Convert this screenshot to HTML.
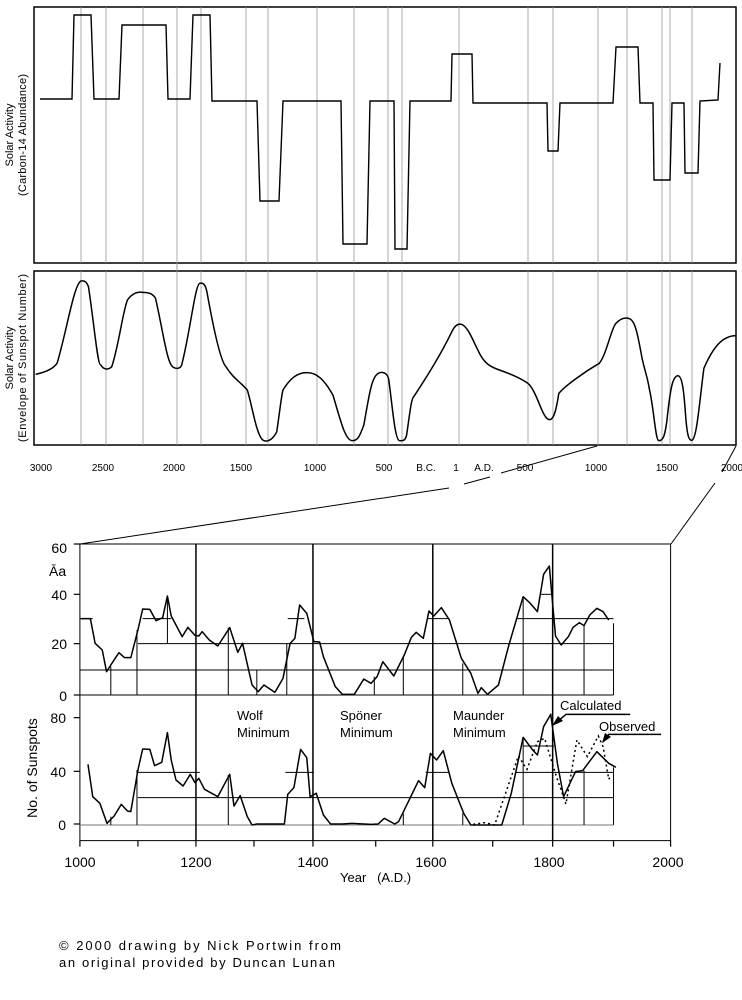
<!DOCTYPE html>
<html><head><meta charset="utf-8"><style>
html,body{margin:0;padding:0;background:#fff;}
svg{display:block;}
text{font-family:"Liberation Sans",sans-serif;fill:#000;}
.ns{vector-effect:non-scaling-stroke;}
</style></head><body>
<svg width="742" height="1000" viewBox="0 0 742 1000" xmlns="http://www.w3.org/2000/svg">
<!-- Panel 1 -->
<rect x="34" y="7" width="702" height="256" fill="none" stroke="#000" stroke-width="1.5"/>
<g stroke="#999" stroke-width="0.8">
<line x1="81" y1="7" x2="81" y2="263"/><line x1="106" y1="7" x2="106" y2="263"/><line x1="143" y1="7" x2="143" y2="263"/><line x1="177" y1="7" x2="177" y2="270"/><line x1="201" y1="7" x2="201" y2="263"/><line x1="246" y1="7" x2="246" y2="263"/><line x1="268" y1="7" x2="268" y2="263"/><line x1="317" y1="7" x2="317" y2="263"/><line x1="354" y1="7" x2="354" y2="263"/><line x1="388" y1="7" x2="388" y2="263"/><line x1="402" y1="7" x2="402" y2="263"/><line x1="459" y1="7" x2="459" y2="263"/><line x1="528" y1="7" x2="528" y2="263"/><line x1="553" y1="7" x2="553" y2="263"/><line x1="598" y1="7" x2="598" y2="263"/><line x1="627" y1="7" x2="627" y2="263"/><line x1="662" y1="7" x2="662" y2="263"/><line x1="670" y1="7" x2="670" y2="263"/><line x1="692" y1="7" x2="692" y2="263"/>
</g>
<polyline fill="none" stroke="#000" stroke-width="1.4" points="40,99 72,99 74,15 91,15 94,99 119,99 122,25 166,25 168,99 190,99 193,15 210,15 212,101 257,101 260,201 279,201 283,101 341,101 343,244 367,244 370,101 394,101 395,249 407,249 410,101 451,101 452,54 472,54 473,103 547,103 548,151 558,151 560,103 613,103 616,47 638,47 640,103 653,103 654,180 670,180 672,103 684,103 685,173 698,173 700,101 718,100 720,63"/>
<text transform="translate(13,135) rotate(-90)" font-size="11" text-anchor="middle">Solar Activity</text>
<text transform="translate(26,135) rotate(-90)" font-size="11" text-anchor="middle" textLength="122" lengthAdjust="spacing">(Carbon-14 Abundance)</text>

<!-- Panel 2 -->
<rect x="34" y="271" width="702" height="174" fill="none" stroke="#000" stroke-width="1.5"/>
<g stroke="#999" stroke-width="0.8">
<line x1="81" y1="271" x2="81" y2="445"/><line x1="106" y1="271" x2="106" y2="445"/><line x1="143" y1="271" x2="143" y2="445"/><line x1="177" y1="263" x2="177" y2="445"/><line x1="201" y1="271" x2="201" y2="445"/><line x1="246" y1="271" x2="246" y2="445"/><line x1="268" y1="271" x2="268" y2="445"/><line x1="317" y1="271" x2="317" y2="445"/><line x1="354" y1="271" x2="354" y2="445"/><line x1="388" y1="271" x2="388" y2="445"/><line x1="402" y1="271" x2="402" y2="445"/><line x1="459" y1="271" x2="459" y2="445"/><line x1="528" y1="271" x2="528" y2="445"/><line x1="553" y1="271" x2="553" y2="445"/><line x1="598" y1="271" x2="598" y2="445"/><line x1="627" y1="271" x2="627" y2="445"/><line x1="662" y1="271" x2="662" y2="445"/><line x1="670" y1="271" x2="670" y2="445"/><line x1="692" y1="271" x2="692" y2="445"/>
</g>
<g transform="translate(0,265) scale(0.4756,0.33333)">
<path class="ns" fill="none" stroke="#000" stroke-width="1.5" stroke-linejoin="round" d="M75,328 C100,320 112,310 120,295 C140,200 155,60 170,48 C180,45 183,55 186,65 C200,200 205,300 212,300 C218,315 228,315 235,305 C250,240 258,140 268,105 C278,85 290,80 300,82 C315,82 322,88 327,100 C340,180 350,280 360,300 C365,312 378,315 382,300 C400,200 410,60 420,55 C428,52 432,60 435,80 C450,200 465,290 475,305 C490,340 505,350 520,375 C530,420 540,520 555,527 C565,532 575,520 582,500 C590,420 592,390 595,375 C610,340 625,323 645,323 C665,323 680,340 700,390 C715,460 725,525 740,527 C752,528 756,515 765,480 C775,400 780,350 790,332 C798,318 812,318 817,340 C825,420 830,525 840,527 C850,528 852,525 855,510 C862,440 865,400 870,395 C900,330 930,260 950,200 C955,185 962,175 970,178 C985,185 995,230 1010,270 C1020,295 1030,305 1050,315 C1080,330 1100,345 1110,355 C1130,380 1140,462 1155,464 C1165,465 1170,430 1175,385 C1190,360 1230,320 1260,295 C1275,270 1285,190 1295,175 C1305,160 1315,155 1325,162 C1335,170 1340,200 1350,280 C1358,330 1362,340 1365,370 C1375,430 1378,525 1385,527 C1395,528 1398,510 1402,470 C1410,360 1415,335 1425,332 C1435,332 1438,380 1442,460 C1445,510 1448,527 1455,526 C1465,520 1470,420 1480,310 C1495,260 1510,235 1520,225 C1530,215 1540,212 1548,212"/>
</g>
<text transform="translate(13,358) rotate(-90)" font-size="11" text-anchor="middle">Solar Activity</text>
<text transform="translate(26,358) rotate(-90)" font-size="11" text-anchor="middle" textLength="168" lengthAdjust="spacing">(Envelope  of Sunspot Number)</text>
<g font-size="10" text-anchor="middle">
<text x="41" y="471">3000</text><text x="103" y="471">2500</text><text x="174" y="471">2000</text><text x="241" y="471">1500</text><text x="315" y="471">1000</text><text x="384" y="471">500</text><text x="426" y="471">B.C.</text><text x="456" y="471">1</text><text x="484" y="471">A.D.</text><text x="525" y="471">500</text><text x="596" y="471">1000</text><text x="667" y="471">1500</text><text x="732" y="471">2000</text>
</g>
<g stroke="#000" stroke-width="1" fill="none">
<polyline points="597,446 501,473"/><line x1="490" y1="477" x2="464" y2="484"/><line x1="449" y1="488" x2="80" y2="544"/>
<line x1="736" y1="446" x2="722" y2="472"/><line x1="715" y1="483" x2="671" y2="544"/>
</g>

<!-- Bottom chart -->
<g transform="translate(0,530) scale(0.4756,0.33333)">
<g class="ns" stroke="#000" stroke-width="1" fill="none">
<rect class="ns" x="168" y="42" width="1242" height="890"/>
<line class="ns" x1="168" y1="495" x2="1290" y2="495"/>
<line class="ns" x1="1290" y1="280" x2="1290" y2="495"/>
<line class="ns" x1="1290" y1="712" x2="1290" y2="885"/>
<line class="ns" x1="168" y1="420" x2="1290" y2="420"/>
<line class="ns" x1="290" y1="341" x2="1290" y2="341"/>
<line class="ns" x1="168" y1="266" x2="195" y2="266"/>
<line class="ns" x1="300" y1="266" x2="360" y2="266"/>
<line class="ns" x1="605" y1="266" x2="640" y2="266"/>
<line class="ns" x1="900" y1="266" x2="945" y2="266"/>
<line class="ns" x1="1085" y1="266" x2="1290" y2="266"/>
<line class="ns" x1="1135" y1="193" x2="1160" y2="193"/>
<line class="ns" x1="233" y1="410" x2="233" y2="495"/><line class="ns" x1="288" y1="300" x2="288" y2="495"/><line class="ns" x1="352" y1="200" x2="352" y2="341"/><line class="ns" x1="480" y1="293" x2="480" y2="495"/><line class="ns" x1="540" y1="420" x2="540" y2="495"/><line class="ns" x1="603" y1="341" x2="603" y2="495"/><line class="ns" x1="787" y1="440" x2="787" y2="495"/><line class="ns" x1="848" y1="380" x2="848" y2="495"/><line class="ns" x1="973" y1="400" x2="973" y2="495"/><line class="ns" x1="1100" y1="200" x2="1100" y2="495"/><line class="ns" x1="1228" y1="287" x2="1228" y2="495"/>
<line class="ns" x1="168" y1="885" x2="1290" y2="885" stroke="#777"/>
<line class="ns" x1="290" y1="803" x2="1290" y2="803"/>
<line class="ns" x1="290" y1="727" x2="420" y2="727"/>
<line class="ns" x1="600" y1="727" x2="660" y2="727"/>
<line class="ns" x1="895" y1="727" x2="945" y2="727"/>
<line class="ns" x1="1085" y1="727" x2="1290" y2="727"/>
<line class="ns" x1="1100" y1="648" x2="1165" y2="648"/>
<line class="ns" x1="233" y1="860" x2="233" y2="885"/><line class="ns" x1="288" y1="720" x2="288" y2="885"/><line class="ns" x1="480" y1="735" x2="480" y2="885"/><line class="ns" x1="848" y1="850" x2="848" y2="885"/><line class="ns" x1="973" y1="850" x2="973" y2="885"/><line class="ns" x1="1100" y1="622" x2="1100" y2="885"/><line class="ns" x1="1228" y1="722" x2="1228" y2="885"/>
<g stroke-width="1.5">
<line class="ns" x1="412" y1="42" x2="412" y2="932"/><line class="ns" x1="658" y1="42" x2="658" y2="932"/><line class="ns" x1="910" y1="42" x2="910" y2="932"/><line class="ns" x1="1162" y1="42" x2="1162" y2="932"/>
</g>
<g stroke-width="1.2">
<line class="ns" x1="168" y1="932" x2="168" y2="950"/><line class="ns" x1="290" y1="932" x2="290" y2="950"/><line class="ns" x1="412" y1="932" x2="412" y2="950"/><line class="ns" x1="534" y1="932" x2="534" y2="950"/><line class="ns" x1="658" y1="932" x2="658" y2="950"/><line class="ns" x1="790" y1="932" x2="790" y2="950"/><line class="ns" x1="910" y1="932" x2="910" y2="950"/><line class="ns" x1="1036" y1="932" x2="1036" y2="950"/><line class="ns" x1="1162" y1="932" x2="1162" y2="950"/><line class="ns" x1="1290" y1="932" x2="1290" y2="950"/><line class="ns" x1="1410" y1="932" x2="1410" y2="950"/>
<line class="ns" x1="155" y1="42" x2="168" y2="42"/><line class="ns" x1="155" y1="193" x2="168" y2="193"/><line class="ns" x1="155" y1="341" x2="168" y2="341"/><line class="ns" x1="155" y1="495" x2="168" y2="495"/>
<line class="ns" x1="155" y1="563" x2="168" y2="563"/><line class="ns" x1="155" y1="724" x2="168" y2="724"/><line class="ns" x1="155" y1="882" x2="168" y2="882"/>
</g>
</g>
<polyline class="ns" fill="none" stroke="#000" stroke-width="1.5" stroke-linejoin="round" points="168,266 190,266 200,340 215,360 224,425 233,405 250,368 262,383 275,383 290,300 300,237 315,238 328,272 342,263 352,198 360,258 383,320 395,292 410,316 418,318 425,305 440,330 458,348 483,293 500,367 510,340 530,465 543,485 555,465 578,487 595,445 610,340 620,325 630,225 645,250 660,335 672,336 680,380 705,470 720,493 745,493 765,447 780,460 793,440 805,395 828,438 850,375 865,322 875,307 890,325 902,243 912,258 928,233 945,270 970,385 990,430 1005,490 1012,473 1025,493 1048,465 1070,345 1100,200 1115,220 1130,245 1143,133 1155,108 1168,318 1180,345 1195,320 1205,292 1218,278 1228,287 1240,255 1255,235 1268,245 1280,270"/>
<polyline class="ns" fill="none" stroke="#000" stroke-width="1.5" stroke-linejoin="round" points="185,703 195,800 210,820 225,880 240,858 255,823 268,843 275,845 290,720 300,657 315,658 325,707 340,697 352,608 360,690 370,750 385,768 400,733 410,758 418,745 430,778 458,800 483,733 492,828 505,797 520,860 530,885 540,882 598,882 605,793 618,773 632,658 645,683 652,800 665,790 680,855 695,882 720,882 740,880 780,883 795,882 808,865 830,882 838,875 862,805 880,752 893,773 905,670 918,690 932,662 950,760 975,850 990,885 1030,885 1055,885 1075,790 1100,622 1120,660 1130,675 1143,590 1158,553 1172,700 1185,800 1210,725 1225,722 1255,665 1280,700 1295,712"/>
<polyline class="ns" fill="none" stroke="#000" stroke-width="1.5" stroke-dasharray="2,3" points="995,883 1020,878 1040,885 1090,678 1108,718 1130,635 1145,625 1170,740 1190,822 1213,630 1235,680 1258,618 1268,650 1280,748 1285,735"/>
<g class="ns" stroke="#000" stroke-width="1.5" fill="none">
<polyline class="ns" points="1325,553 1190,553 1168,580"/>
<polyline class="ns" points="1390,613 1280,613 1268,636"/>
</g>
</g>
<polygon points="552,726 558,716 563,721" fill="#000"/>
<polygon points="602,743 605,733 611,737" fill="#000"/>
<g font-size="13">
<text x="237" y="720">Wolf</text><text x="237" y="737">Minimum</text>
<text x="340" y="720">Spöner</text><text x="340" y="737">Minimum</text>
<text x="453" y="720">Maunder</text><text x="453" y="737">Minimum</text>
<text x="560" y="710">Calculated</text>
<text x="599" y="731">Observed</text>
</g>
<g font-size="14" text-anchor="end">
<text x="67" y="553">60</text><text x="67" y="600">40</text><text x="67" y="649">20</text><text x="67" y="701">0</text>
<text x="66" y="723">80</text><text x="66" y="777">40</text><text x="66" y="830">0</text>
</g>
<text x="49" y="576" font-size="14">Āa</text>
<text transform="translate(37,768) rotate(-90)" font-size="14" text-anchor="middle">No. of Sunspots</text>
<g font-size="14" text-anchor="middle">
<text x="80" y="867">1000</text><text x="196" y="867">1200</text><text x="313" y="867">1400</text><text x="431" y="867">1600</text><text x="549" y="867">1800</text><text x="668" y="867">2000</text>
</g>
<text x="340" y="882" font-size="13" xml:space="preserve">Year   (A.D.)</text>
<text x="59" y="950" font-size="13" textLength="282" lengthAdjust="spacing">© 2000 drawing by Nick Portwin from</text>
<text x="59" y="967" font-size="13" textLength="276" lengthAdjust="spacing">an original provided by Duncan Lunan</text>
</svg>
</body></html>
